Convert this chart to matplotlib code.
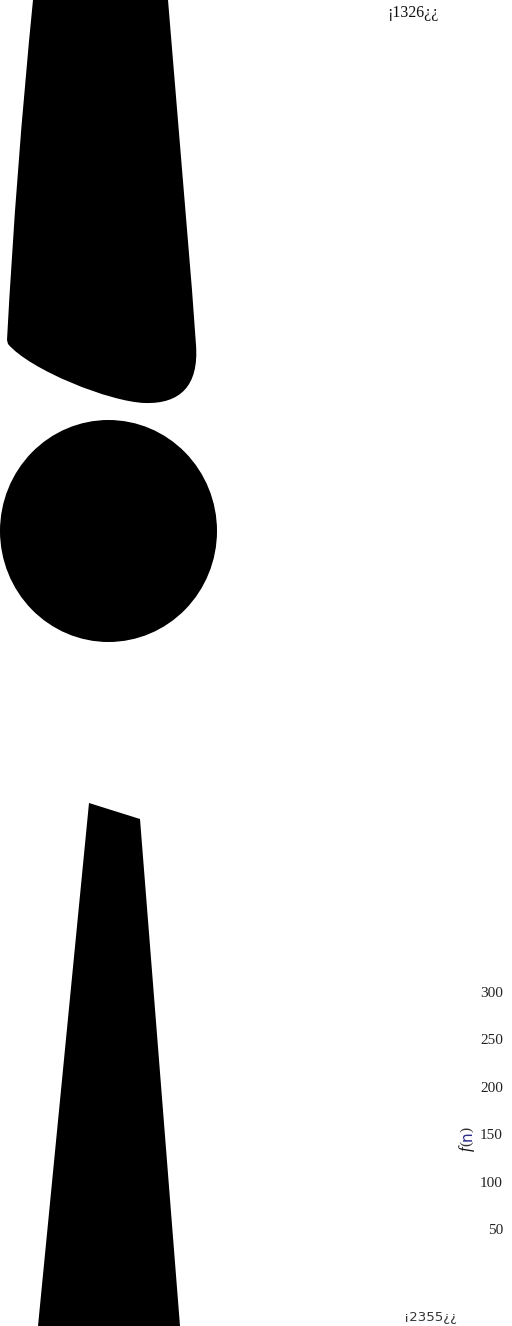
import numpy as np
import matplotlib
matplotlib.use("Agg")
import matplotlib.pyplot as plt
from matplotlib.patches import Polygon, Ellipse, PathPatch
from matplotlib.path import Path

# outline of the big top shape (pixel units, y down), with curve codes
top_pts = [(33, 0), (168, 0), (192, 290), (196, 345),
           (199, 386), (180, 404), (145, 403),
           (110, 402), (30, 370), (8, 344),
           (7, 340),
           (16, 170), (33, 0)]
top_codes = [Path.MOVETO, Path.LINETO, Path.LINETO, Path.LINETO,
             Path.CURVE4, Path.CURVE4, Path.CURVE4,
             Path.CURVE4, Path.CURVE4, Path.CURVE4,
             Path.LINETO,
             Path.CURVE3, Path.CURVE3]

# the round blob in the middle
circ_cx, circ_cy = 108.5, 531
circ_w, circ_h = 217, 222

# the wedge at the bottom
low_x = [89, 140, 180, 38]
low_y = [803, 819, 1326, 1326]

# axis on the right
yticks = [50, 100, 150, 200, 250, 300]
top_label = "¡1326¿¿"
bottom_label = "¡2355¿¿"

W, H = 512, 1326
fig = plt.figure(figsize=(W / 100, H / 100), dpi=100)

ax = fig.add_axes([0, 0, 1, 1])
ax.set_xlim(0, W)
ax.set_ylim(H, 0)
ax.axis("off")

ax.add_patch(PathPatch(Path(top_pts, top_codes), facecolor="black", edgecolor="none"))
ax.add_patch(Ellipse((circ_cx, circ_cy), circ_w, circ_h,
                     facecolor="black", edgecolor="none"))
ax.add_patch(Polygon(np.column_stack([low_x, low_y]), closed=True,
                     facecolor="black", edgecolor="none"))

ax.text(412.5, 13, top_label, ha="center", va="center", fontsize=11.5,
        family="Liberation Serif", color="#111")
ax.text(431, 1317, bottom_label, ha="center", va="center", fontsize=9.5,
        family="DejaVu Sans", color="#333")

# small value axis on the right edge
ax2 = fig.add_axes([507 / W, (H - 1290) / H, 4 / W, 320 / H])
ax2.set_ylim(-14.3, 323.2)
ax2.set_yticks(yticks)
ax2.set_xticks([])
for s in ax2.spines.values():
    s.set_visible(False)
ax2.patch.set_visible(False)
ax2.tick_params(axis="y", length=0, pad=3, labelsize=11, labelcolor="#222")
for lab in ax2.get_yticklabels():
    lab.set_family("Liberation Serif")

# y label f(n) with blue n, built from pieces
t1 = fig.text(467 / W, (H - 1151) / H, "f", rotation=90, ha="center", va="bottom",
              fontsize=12, family="Liberation Serif", style="italic", color="#111")
t2 = ax.annotate("(", xy=(0.5, 1.0), xycoords=t1, ha="center", va="bottom",
                 rotation=90, fontsize=11, family="Liberation Serif", color="#333")
t3 = ax.annotate("n", xy=(0.5, 1.0), xycoords=t2, ha="center", va="bottom",
                 rotation=90, fontsize=11, family="DejaVu Sans", color="#2a2a8a")
t4 = ax.annotate(")", xy=(0.5, 1.0), xycoords=t3, ha="center", va="bottom",
                 rotation=90, fontsize=11, family="Liberation Serif", color="#333")

fig.savefig("out.png", dpi=100)
